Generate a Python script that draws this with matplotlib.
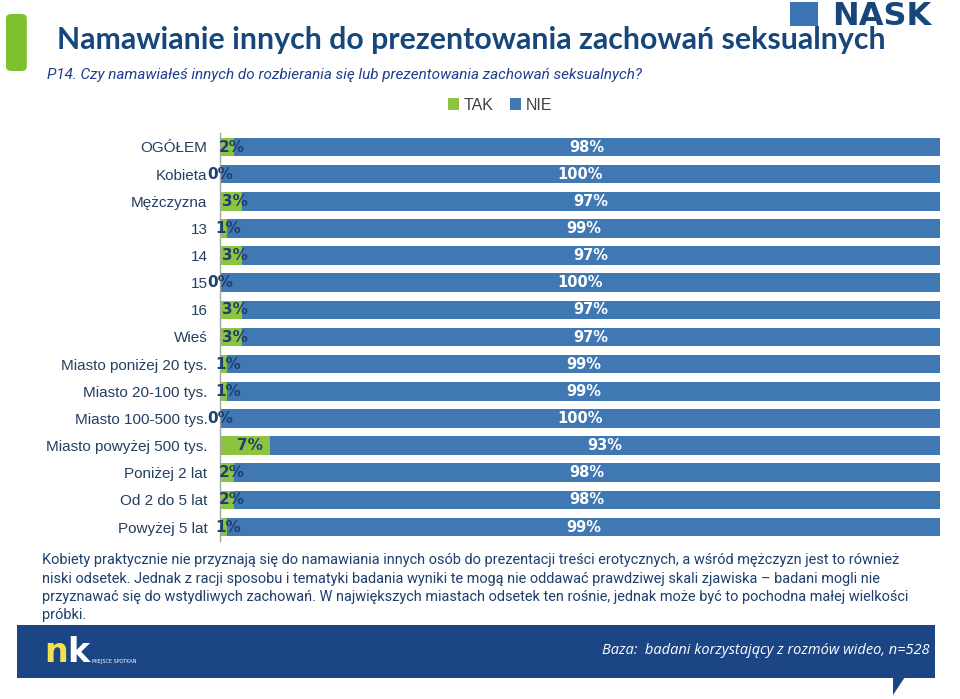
import matplotlib
matplotlib.use("Agg")
import matplotlib.pyplot as plt
from matplotlib.patches import FancyBboxPatch, Rectangle, Polygon
import numpy as np

categories = ["OGÓŁEM", "Kobieta", "Mężczyzna", "13", "14", "15", "16", "Wieś",
              "Miasto poniżej 20 tys.", "Miasto 20-100 tys.", "Miasto 100-500 tys.",
              "Miasto powyżej 500 tys.", "Poniżej 2 lat", "Od 2 do 5 lat", "Powyżej 5 lat"]
tak = [2, 0, 3, 1, 3, 0, 3, 3, 1, 1, 0, 7, 2, 2, 1]
nie = [98, 100, 97, 99, 97, 100, 97, 97, 99, 99, 100, 93, 98, 98, 99]
series_names = ["TAK", "NIE"]

GREEN = "#8CC43F"
BLUE = "#4078B3"
DARK = "#1F3F6E"
LABEL = "#243F60"

W, H = 960, 699
fig = plt.figure(figsize=(W / 100, H / 100), dpi=100)
renderer = fig.canvas.get_renderer()


def fx(x):
    return x / W


def fy(y):
    return 1 - y / H


def fit(t, width_px):
    ext = t.get_window_extent(renderer=renderer)
    t.set_fontsize(t.get_fontsize() * width_px / ext.width)


# chart axes
row0, rowN = 147, 527
n = len(categories)
sp = (rowN - row0) / (n - 1)
top = row0 - sp / 2
bot = rowN + sp / 2
ax = fig.add_axes([fx(220), fy(bot), fx(940) - fx(220), (bot - top) / H])
y = np.arange(n)
ax.barh(y, tak, height=0.68, color=GREEN, label=series_names[0])
ax.barh(y, nie, left=tak, height=0.68, color=BLUE, label=series_names[1])
ax.set_xlim(0, 100)
ax.set_ylim(n - 0.5, -0.5)
ax.set_yticks(y)
ax.set_yticklabels(categories, fontsize=11, color=LABEL, family="Liberation Sans")
ax.tick_params(axis="y", length=0, pad=9)
ax.set_xticks([])
for s in ["top", "right", "bottom"]:
    ax.spines[s].set_visible(False)
ax.spines["left"].set_color("#A6A6A6")
ax.spines["left"].set_linewidth(1)

for i in range(n):
    ax.text(tak[i] / 2 + (0.6 if tak[i] > 0 else 0), i, f"{tak[i]}%", ha="center", va="center",
            fontsize=11, fontweight="bold", color=DARK, family="DejaVu Sans")
    ax.text(tak[i] + nie[i] / 2, i, f"{nie[i]}%", ha="center", va="center",
            fontsize=10.5, fontweight="bold", color="white", family="DejaVu Sans")

# legend
leg = fig.legend(loc="center", bbox_to_anchor=(fx(500), fy(105)), ncol=2, frameon=False,
                 handlelength=0.7, handleheight=0.7, handletextpad=0.3,
                 columnspacing=1.0, prop={"family": "Liberation Sans", "size": 11.5})
for t in leg.get_texts():
    t.set_color("#404040")

# green side bar
fig.patches.append(FancyBboxPatch((fx(6), fy(71)), fx(22) - fx(6) + 0.005, (71 - 14) / H,
                                  boxstyle="round,pad=0,rounding_size=0.006",
                                  transform=fig.transFigure, facecolor="#7DC12E", edgecolor="none"))

# title
tt = fig.text(fx(57), fy(40), "Namawianie innych do prezentowania zachowań seksualnych",
              fontsize=20, fontweight="bold", color="#17467A", family="Lato", va="center", ha="left")
fit(tt, 825)
st = fig.text(fx(47), fy(75), "P14. Czy namawiałeś innych do rozbierania się lub prezentowania zachowań seksualnych?",
              fontsize=10, style="italic", color="#1F3F8E", family="Roboto", va="center", ha="left")
fit(st, 593)

# NASK logo
fig.patches.append(Rectangle((fx(790), fy(26)), 28 / W, 24 / H, transform=fig.transFigure,
                             facecolor="#3C73B5", edgecolor="none"))
fig.text(fx(832), fy(25), "NASK", fontsize=23, fontweight="heavy", color="#17467A",
         family="DejaVu Sans", va="baseline", ha="left")

# paragraph
lines = [
    "Kobiety praktycznie nie przyznają się do namawiania innych osób do prezentacji treści erotycznych, a wśród mężczyzn jest to również",
    "niski odsetek. Jednak z racji sposobu i tematyki badania wyniki te mogą nie oddawać prawdziwej skali zjawiska – badani mogli nie",
    "przyznawać się do wstydliwych zachowań. W największych miastach odsetek ten rośnie, jednak może być to pochodna małej wielkości",
    "próbki.",
]
ptexts = []
for k, ln in enumerate(lines):
    ptexts.append(fig.text(fx(42), fy(560 + k * 18.5), ln, fontsize=10.5, color="#1F3F6E",
                           family="Roboto", va="center", ha="left"))
ext0 = ptexts[0].get_window_extent(renderer=renderer)
ps = 10.5 * 863 / ext0.width
for t in ptexts:
    t.set_fontsize(ps)

# bottom banner
fig.patches.append(Rectangle((fx(17), fy(678)), (935 - 17) / W, (678 - 625) / H,
                             transform=fig.transFigure, facecolor="#1B4585", edgecolor="none"))
fig.patches.append(Polygon([(fx(893), fy(677)), (fx(905), fy(677)), (fx(893), fy(695))],
                           closed=True, transform=fig.transFigure, facecolor="#1B4585", edgecolor="none"))
fig.text(fx(44), fy(662), "n", fontsize=24, fontweight="bold", color="#F2E14C",
         family="DejaVu Sans", va="baseline", ha="left")
fig.text(fx(67), fy(662), "k", fontsize=24, fontweight="bold", color="white",
         family="DejaVu Sans", va="baseline", ha="left")
fig.text(fx(92), fy(661), "MIEJSCE SPOTKAŃ", fontsize=3.5, color="white",
         family="DejaVu Sans", va="center", ha="left")
fig.text(fx(930), fy(651), "Baza:  badani korzystający z rozmów wideo, n=528", fontsize=10.5,
         style="italic", color="white", family="Open Sans", va="center", ha="right")

fig.savefig("out.png", dpi=100)
